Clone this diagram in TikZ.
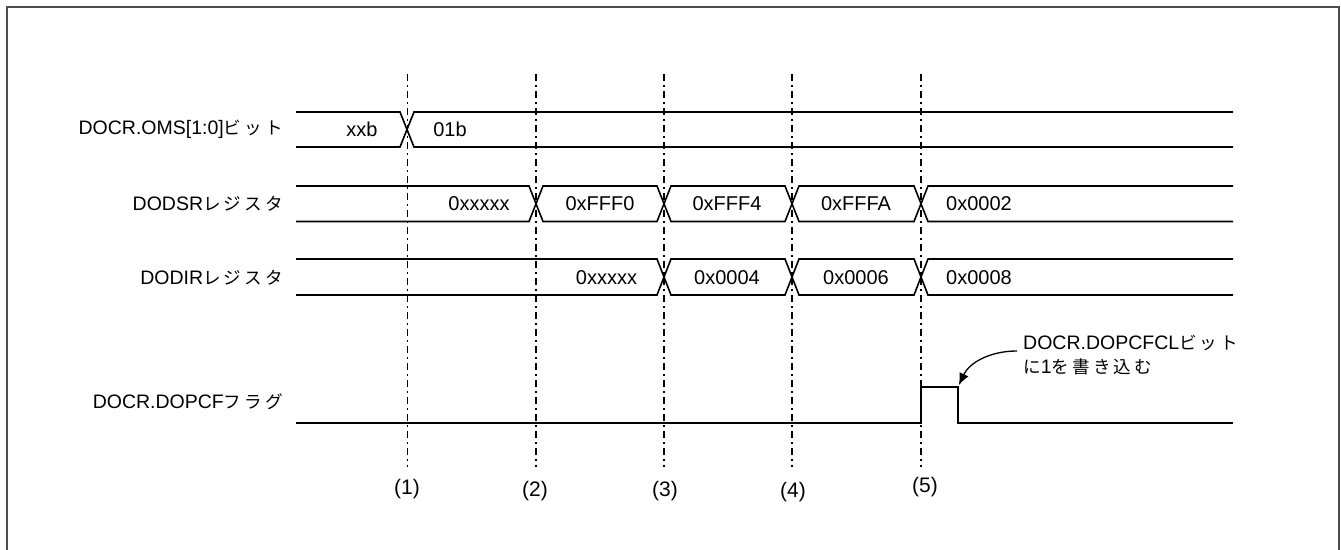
\documentclass[tikz,border=0pt]{standalone}
\usepackage{fontspec}
\setmainfont{Liberation Sans}
\newfontfamily\jp[Scale=0.9,LetterSpace=18]{Noto Sans CJK JP}
\usetikzlibrary{arrows.meta}
\begin{document}
\begin{tikzpicture}[x=1pt,y=-1pt,
  sig/.style={line width=1.6pt, line join=miter},
  vguide/.style={line width=1.2pt, dash pattern=on 7pt off 4pt on 2pt off 4pt},
  lbl/.style={anchor=east, inner sep=0pt, font=\fontsize{19.5}{22}\selectfont},
  val/.style={inner sep=0pt, font=\fontsize{20}{22}\selectfont},
  num/.style={inner sep=0pt, font=\fontsize{21}{24}\selectfont},
  frame/.style={line width=1.6pt, draw=black!70}]
\useasboundingbox (0,0) rectangle (1341,549);
% frame (bottom edge lies outside the picture)
\draw[frame] (7,560) -- (7,7) -- (1339,7) -- (1339,560);

% vertical guides
\foreach \x/\n in {407.5/1,536/2,664/3,792/4,921/5}{
  \coordinate (gt\n) at (\x,74);
  \coordinate (gb\n) at (\x,467);
  \draw[vguide] (gt\n) -- (gb\n);
}

% labels
\node[lbl] (lOMS)   at (283,129.5) {DOCR.OMS[1:0]{\jp ビット}};
\node[lbl] (lDODSR) at (283,204)   {DODSR{\jp レジスタ}};
\node[lbl] (lDODIR) at (283,277.5) {DODIR{\jp レジスタ}};
\node[lbl] (lPCF)   at (283,402)   {DOCR.DOPCF{\jp フラグ}};

% OMS bus
\draw[sig] (296,112) -- (400,112) -- (414,147) -- (1233,147);
\draw[sig] (296,147) -- (400,147) -- (414,112) -- (1233,112);
\node[val] (vxxb) at (362,129.5) {xxb};
\node[val] (v01b) at (450,129.5) {01b};

% DODSR bus
\draw[sig] (296,186) -- (529,186) -- (543,221.5) -- (657,221.5) -- (671,186) -- (785,186) -- (799,221.5) -- (914,221.5) -- (928,186) -- (1233,186);
\draw[sig] (296,221.5) -- (529,221.5) -- (543,186) -- (657,186) -- (671,221.5) -- (785,221.5) -- (799,186) -- (914,186) -- (928,221.5) -- (1233,221.5);
\node[val] (s0) at (479,204) {0xxxxx};
\node[val] (s1) at (600,204) {0xFFF0};
\node[val] (s2) at (727,204) {0xFFF4};
\node[val] (s3) at (856,204) {0xFFFA};
\node[val] (s4) at (979,204) {0x0002};

% DODIR bus
\draw[sig] (296,259) -- (657,259) -- (671,295) -- (785,295) -- (799,259) -- (914,259) -- (928,295) -- (1233,295);
\draw[sig] (296,295) -- (657,295) -- (671,259) -- (785,259) -- (799,295) -- (914,295) -- (928,259) -- (1233,259);
\node[val] (i0) at (606.5,277.5) {0xxxxx};
\node[val] (i1) at (727,277.5) {0x0004};
\node[val] (i2) at (856,277.5) {0x0006};
\node[val] (i3) at (979,277.5) {0x0008};

% DOPCF flag
\coordinate (pfall) at (958,387);
\draw[sig] (296,423) -- (921,423) -- (921,387) -- (pfall) -- (958,423) -- (1233,423);

% annotation
\node[inner sep=0pt, anchor=west, align=left, font=\fontsize{19.5}{24}\selectfont] (note) at (1023,355)
  {DOCR.DOPCFCL{\jp ビット}\\{\jp に}1{\jp を書き込む}};
\draw[line width=1.3pt, -{Latex[length=12pt,width=10pt]}, shorten >=2pt]
  ([shift={(-6,-4)}]note.west) to[out=180,in=65] (pfall);

% time markers
\node[num] (t1) at (407,489) {(1)};
\node[num] (t2) at (535,491) {(2)};
\node[num] (t3) at (665,491) {(3)};
\node[num] (t4) at (793,492) {(4)};
\node[num] (t5) at (925,487) {(5)};
\end{tikzpicture}
\end{document}
